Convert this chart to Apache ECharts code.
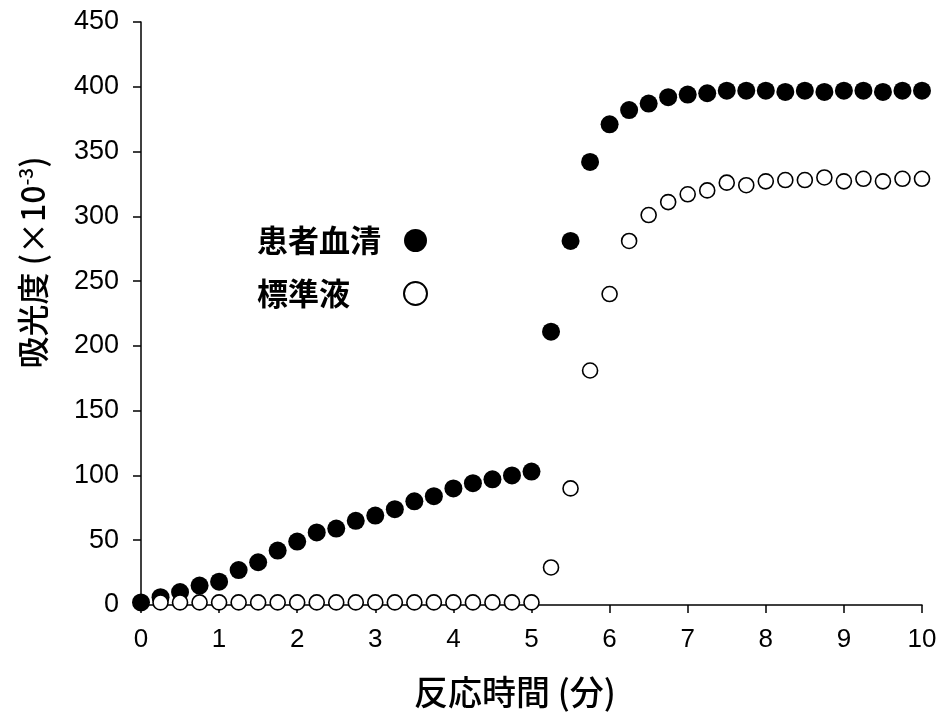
<!DOCTYPE html>
<html>
    <head>
        <meta charset="utf-8">
        <title>吸光度</title>
        <style>
            html, body { margin: 0; padding: 0; background: #fff; }
            #chart1 { width: 949px; height: 721px; }
        </style>
    </head>
    <body>
        <div id="chart1"></div>
    </body>
    <script src="https://cdn.jsdelivr.net/npm/echarts@6/dist/echarts.min.js"></script>
    <script>
        // 反応時間(分)  0.25分ごと
        var times = [0, 0.25, 0.5, 0.75, 1, 1.25, 1.5, 1.75, 2, 2.25, 2.5, 2.75, 3, 3.25, 3.5, 3.75, 4, 4.25, 4.5, 4.75, 5,
                     5.25, 5.5, 5.75, 6, 6.25, 6.5, 6.75, 7, 7.25, 7.5, 7.75, 8, 8.25, 8.5, 8.75, 9, 9.25, 9.5, 9.75, 10];
        // 患者血清
        var serumValues = [2, 6, 10, 15, 18, 27, 33, 42, 49, 56, 59, 65, 69, 74, 80, 84, 90, 94, 97, 100, 103,
                           211, 281, 342, 371, 382, 387, 392, 394, 395, 397, 397, 397, 396, 397, 396, 397, 397, 396, 397, 397];
        // 標準液 (0.25分から)
        var standardTimes = times.slice(1);
        var standardValues = [2, 2, 2, 2, 2, 2, 2, 2, 2, 2, 2, 2, 2, 2, 2, 2, 2, 2, 2, 2,
                              29, 90, 181, 240, 281, 301, 311, 317, 320, 326, 324, 327, 328, 328, 330, 327, 329, 327, 329, 329];
        var seriesNames = ['患者血清', '標準液'];
        var xTicks = [0, 1, 2, 3, 4, 5, 6, 7, 8, 9, 10];

        function pairs(xs, ys) {
            var out = [];
            for (var i = 0; i < ys.length; i++) {
                out.push([xs[i], ys[i]]);
            }
            return out;
        }

        var cjk = '"Noto Sans CJK JP", sans-serif';
        var myChart1 = echarts.init(document.getElementById('chart1'));
        myChart1.setOption({
            animation: false,
            backgroundColor: '#fff',
            grid: { left: 141, right: 27, top: 22, bottom: 116 },
            legend: {
                orient: 'vertical',
                left: 252,
                top: 220,
                align: 'right',
                itemWidth: 23,
                itemHeight: 23,
                itemGap: 22,
                selectedMode: false,
                data: seriesNames,
                formatter: function (name) { return '{a|' + name + '}'; },
                textStyle: {
                    rich: {
                        a: { width: 142, align: 'left', fontSize: 31, lineHeight: 32, fontFamily: cjk, fontWeight: 'bold', color: '#000' }
                    }
                }
            },
            xAxis: {
                type: 'value',
                min: 0, max: 10, interval: 1,
                name: '反応時間 (分)',
                nameLocation: 'middle',
                nameGap: 70,
                nameTextStyle: { fontSize: 34, fontFamily: cjk, fontWeight: 500, color: '#000', padding: [0, 33, 0, 0] },
                axisLine: { lineStyle: { color: '#000', width: 1.5 } },
                axisTick: { inside: false, length: 8, lineStyle: { color: '#000', width: 1.5 } },
                axisLabel: {
                    margin: 22, fontSize: 26, color: '#000', fontFamily: '"Liberation Sans Narrow", "Liberation Sans", sans-serif',
                    formatter: function (v) { return xTicks.indexOf(v) >= 0 ? String(v) : ''; }
                },
                splitLine: { show: false }
            },
            yAxis: {
                type: 'value',
                min: 0, max: 450, interval: 50,
                name: '吸光度 (×10{sup|-3})',
                nameLocation: 'middle',
                nameGap: 92,
                nameRotate: 90,
                nameTextStyle: {
                    fontSize: 32, fontFamily: cjk, fontWeight: 500, color: '#000', padding: [0, 0, 0, 102],
                    rich: { sup: { fontSize: 19, fontFamily: cjk, fontWeight: 500, color: '#000', verticalAlign: 'top', padding: [0, 0, 14, 0] } }
                },
                axisLine: { show: true, lineStyle: { color: '#000', width: 1.5 } },
                axisTick: { show: true, length: 8, lineStyle: { color: '#000', width: 1.5 } },
                axisLabel: { margin: 22, fontSize: 27, color: '#000', fontFamily: '"Liberation Sans", Arial, sans-serif' },
                splitLine: { show: false }
            },
            series: [
                {
                    name: seriesNames[0],
                    type: 'scatter',
                    symbol: 'circle',
                    symbolSize: 18,
                    itemStyle: { color: '#000', opacity: 1 },
                    data: pairs(times, serumValues)
                },
                {
                    name: seriesNames[1],
                    type: 'scatter',
                    symbol: 'circle',
                    symbolSize: 15,
                    itemStyle: { color: '#fff', borderColor: '#000', borderWidth: 1.6, opacity: 1 },
                    data: pairs(standardTimes, standardValues)
                }
            ]
        });
    </script>
</html>
